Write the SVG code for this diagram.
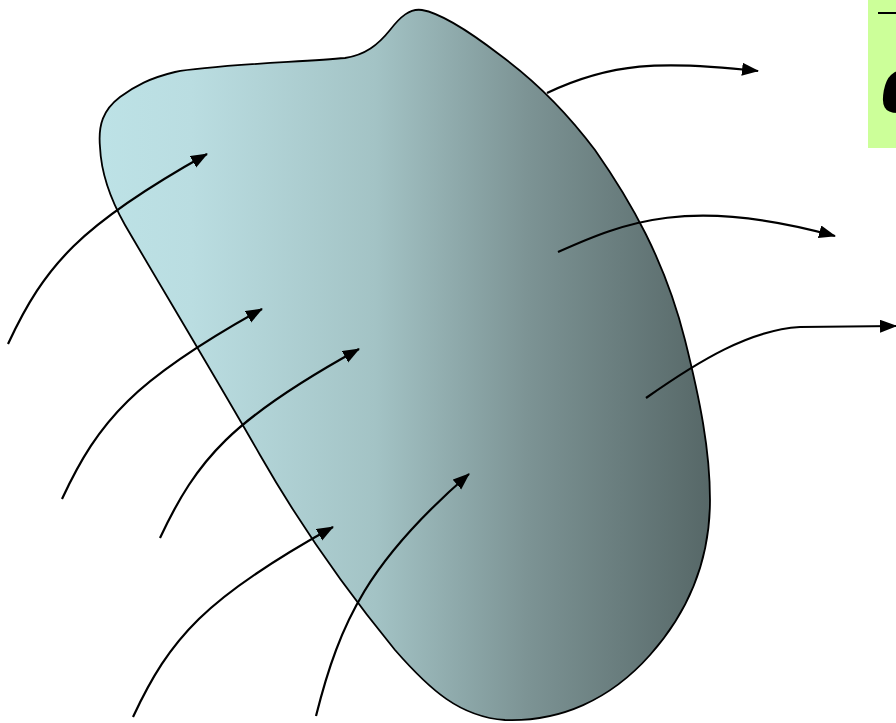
<svg xmlns="http://www.w3.org/2000/svg" width="896" height="723" viewBox="0 0 896 723">
  <defs>
    <linearGradient id="blobGrad" x1="100" y1="0" x2="712" y2="0" gradientUnits="userSpaceOnUse">
      <stop offset="0" stop-color="#bde2e6"/>
      <stop offset="0.15" stop-color="#badde1"/>
      <stop offset="0.45" stop-color="#a3c3c5"/>
      <stop offset="0.7" stop-color="#7c9394"/>
      <stop offset="1" stop-color="#566767"/>
    </linearGradient>
    <marker id="arrow" markerUnits="userSpaceOnUse" markerWidth="18" markerHeight="14" refX="16" refY="6.5" orient="auto">
      <path d="M0,0 L17,6.5 L0,13 z" fill="#000"/>
    </marker>
  </defs>
  <style>
    .flux { fill: none; stroke: #000; stroke-width: 2.2; marker-end: url(#arrow); }
    .outline { stroke: #000; stroke-width: 1.8; }
  </style>
  <rect width="896" height="723" fill="#ffffff"/>

  <g id="region">
    <path class="outline" fill="url(#blobGrad)" d="M100,147 C98,125 103,110 120,97 C135,86 150,78 175,72 C210,65 300,62 345,58 C365,55 378,45 390,30 C400,17 410,8 422,10 C440,13 470,32 500,55 C530,77 565,110 595,150 C630,200 665,260 685,340 C700,400 710,450 710,500 C710,560 690,610 650,655 C610,700 560,722 505,720 C460,717 430,690 395,650 C350,595 300,525 260,455 C220,385 160,285 125,225 C108,195 101,170 100,147 Z"/>
  </g>

  <g id="label">
    <rect x="868" y="0" width="28" height="148" fill="#ccff99"/>
    <line x1="878" y1="13" x2="896" y2="13" stroke="#000" stroke-width="2"/>
    <text x="880" y="112" font-family="DejaVu Sans, sans-serif" font-style="italic" font-weight="bold" font-size="76" fill="#000">α</text>
  </g>

  <g id="connectors">
    <path class="flux" d="M8,344 C45,265 80,225 207,154"/>
    <path class="flux" d="M62,499 C99,420 134,380 262,309"/>
    <path class="flux" d="M160,538 C197,459 232,419 359,349"/>
    <path class="flux" d="M133,717 C170,638 205,598 333,527"/>
    <path class="flux" d="M316,716 C340,620 370,560 469,474"/>
    <path class="flux" d="M547,93 C610,63 660,60 758,71"/>
    <path class="flux" d="M558,252 C625,222 690,196 835,236"/>
    <path class="flux" d="M646,398 C700,360 750,330 800,327 L896,326"/>
  </g>
</svg>
